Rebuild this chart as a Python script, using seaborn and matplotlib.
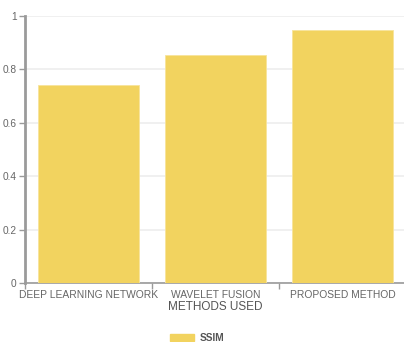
import matplotlib
matplotlib.use("Agg")
import matplotlib.pyplot as plt
import matplotlib.patches as mpatches
import seaborn as sns
import pandas as pd
import numpy as np

methods = ["DEEP LEARNING NETWORK", "WAVELET FUSION", "PROPOSED METHOD"]
ssim = [0.742, 0.853, 0.947]
y_ticks = [0, 0.2, 0.4, 0.6, 0.8, 1]
y_tick_labels = ["0", "0.2", "0.4", "0.6", "0.8", "1"]

bar_color = "#F2D35F"
text_color = "#666666"
axis_color = "#9a9a9a"

sns.set_theme(style="white")
plt.rcParams["font.family"] = ["Liberation Sans", "DejaVu Sans"]

df = pd.DataFrame({"method": methods, "SSIM": ssim})

fig = plt.figure(figsize=(4.04, 3.42), dpi=100)
ax = fig.add_axes([25 / 404, 1 - 283.3 / 342, 381 / 404, 267.6 / 342])

sns.barplot(data=df, x="method", y="SSIM", color=bar_color, width=0.8,
            saturation=1, edgecolor="#F7E49C", linewidth=0.6, ax=ax, zorder=3)

ax.set_xlim(-0.5, len(methods) - 0.5)
ax.set_ylim(0, 1)

# horizontal grid
ax.set_yticks(y_ticks)
ax.set_yticklabels(y_tick_labels)
ax.yaxis.grid(True, color="#eeeeee", linewidth=1.2, zorder=0)
ax.xaxis.grid(False)

# category labels at band centres, tick marks at band edges
ax.set_xticks(range(len(methods)))
ax.set_xticklabels(methods)
ax.set_xticks(np.arange(-0.5, len(methods), 1.0), minor=True)
ax.tick_params(axis="x", which="major", length=0, pad=5, labelsize=7.4,
               labelcolor=text_color)
ax.tick_params(axis="x", which="minor", length=4, width=1, color=axis_color,
               bottom=True)
ax.tick_params(axis="y", which="major", length=4, width=1, color=axis_color,
               left=True, pad=2, labelsize=7.3, labelcolor=text_color)

for side in ["top", "right"]:
    ax.spines[side].set_visible(False)
ax.spines["left"].set_color(axis_color)
ax.spines["left"].set_linewidth(2)
ax.spines["bottom"].set_color(axis_color)
ax.spines["bottom"].set_linewidth(1.2)

ax.set_ylabel("")
ax.set_xlabel("METHODS USED", fontsize=8.5, color="#555555", labelpad=0.5)

leg = fig.legend([mpatches.Patch(color=bar_color)], ["SSIM"],
                 loc="center", bbox_to_anchor=(197 / 404, 1 - 338 / 342),
                 frameon=False, handlelength=2.4, handleheight=0.8,
                 handletextpad=0.5, prop={"weight": "bold", "size": 7.3})
for t in leg.get_texts():
    t.set_color("#555555")

fig.savefig("out.png", dpi=100)
